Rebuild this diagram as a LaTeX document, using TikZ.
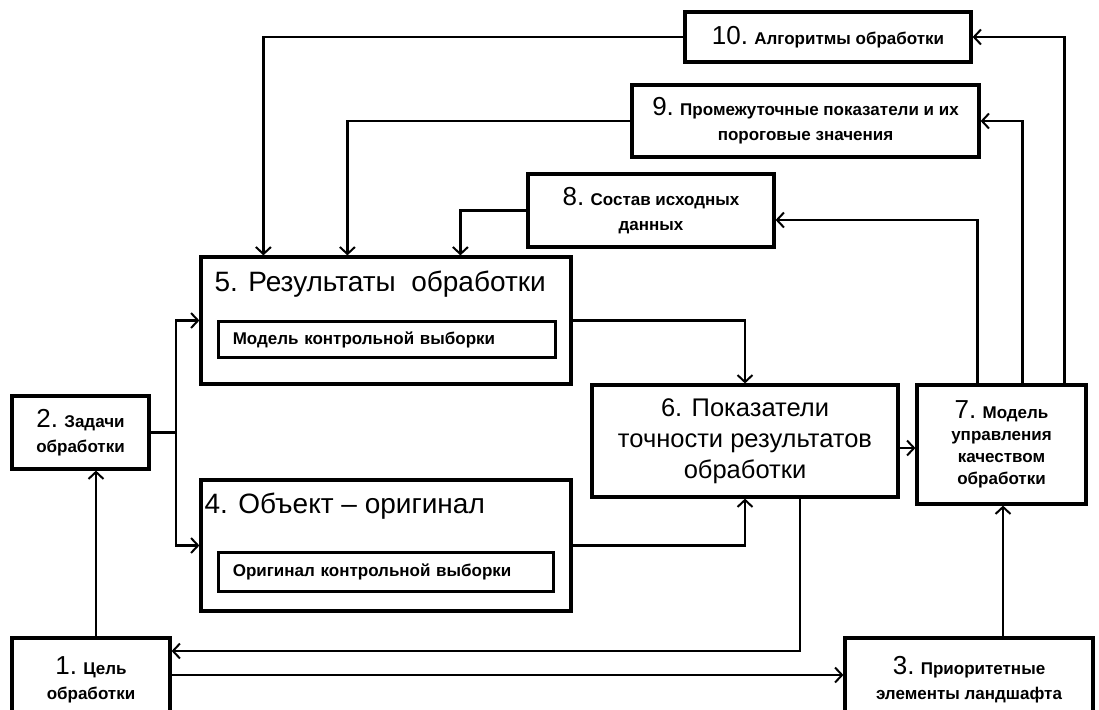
\documentclass[tikz,border=0pt]{standalone}
\usepackage{fontspec}
\setmainfont{Liberation Sans}
\usetikzlibrary{arrows.meta,positioning}
\newcommand{\bnum}[1]{{\fontsize{26}{25}\selectfont\mdseries #1}}
\tikzset{
  >={Straight Barb[length=7pt,width=15pt,line width=2pt]},
  blk/.style={draw,line width=3.2pt,align=center,inner sep=2pt,
    font=\fontsize{17}{25}\selectfont\bfseries},
  bigblk/.style={draw,line width=3.2pt,align=center,inner sep=2pt,
    font=\fontsize{25.5}{31}\selectfont},
  inblk/.style={draw,line width=2.8pt,align=left,anchor=north west,inner xsep=14pt,
    font=\fontsize{17}{19}\selectfont\bfseries},
  ttl/.style={anchor=base west,inner sep=0pt,font=\fontsize{28}{31}\selectfont},
  conn/.style={->,line width=2.2pt},
  line/.style={line width=2.2pt},
}
\begin{document}
\begin{tikzpicture}[x=1pt,y=-1pt]
  \clip (0,0) rectangle (1099,709);
  % blocks
  \node[blk,minimum width=286pt,minimum height=50pt] (alg) at (828,37) {\bnum{10.} Алгоритмы обработки};
  \node[blk,minimum width=347pt,minimum height=72pt] (prom) at (805.5,121) {\bnum{9.} Промежуточные показатели и их\\пороговые значения};
  \node[blk,minimum width=246pt,minimum height=73pt] (sost) at (651,210.5) {\bnum{8.} Состав исходных\\данных};
  \node[draw,line width=3.2pt,minimum width=370pt,minimum height=127pt] (res) at (386,320.5) {};
  \node[ttl] (res-t) at ([xshift=15pt,yshift=-36pt]res.north west) {5. Результаты\ \ обработки};
  \node[inblk,text width=309pt,minimum height=36pt] (res-m) at ([xshift=18pt,yshift=-65pt]res.north west) {Модель контрольной выборки};
  \node[draw,line width=3.2pt,minimum width=370pt,minimum height=131pt] (obj) at (386,545.5) {};
  \node[ttl] (obj-t) at ([xshift=5pt,yshift=-35pt]obj.north west) {4. Объект – оригинал};
  \node[inblk,text width=307pt,minimum height=39pt] (obj-m) at ([xshift=18pt,yshift=-73pt]obj.north west) {Оригинал контрольной выборки};
  \node[blk,minimum width=137pt,minimum height=73pt] (zad) at (80.5,432.5) {\bnum{2.} Задачи\\обработки};
  \node[bigblk,minimum width=306pt,minimum height=112pt] (pok) at (745,441) {6. Показатели\\точности результатов\\обработки};
  \node[blk,minimum width=169pt,minimum height=119pt,font=\fontsize{17}{22}\selectfont\bfseries] (mod) at (1001.5,444.5) {\bnum{7.} Модель\\управления\\качеством\\обработки};
  \node[blk,minimum width=158pt,minimum height=84pt] (cel) at (91,680) {\bnum{1.} Цель\\обработки};
  \node[blk,minimum width=248pt,minimum height=84pt] (prio) at (969,680) {\bnum{3.} Приоритетные\\элементы ландшафта};
  % connectors
  \foreach \src/\dx in {alg/64,prom/148,sost/261}
    \draw[conn] (\src.west) -| ([xshift=\dx pt]res.north west);
  \foreach \dx/\tgt/\dy in {149/alg/0,107/prom/0,62/sost/-9.5}
    \draw[conn] ([xshift=\dx pt]mod.north west) |- ([yshift=\dy pt]\tgt.east);
  \draw[conn] (res.east) -| (pok.north);
  \draw[conn] (obj.east) -| (pok.south);
  \draw[conn] ([yshift=-7pt]pok.east) -- ([yshift=-7pt]pok.east -| mod.west);
  \draw[conn] ([xshift=55pt]pok.south) |- ([yshift=29pt]cel.east);
  \draw[conn] ([yshift=5pt]cel.east) -- ([yshift=5pt]cel.east -| prio.west);
  \draw[conn] ([xshift=34pt]prio.north) -- ([xshift=34pt]prio.north |- mod.south);
  \draw[conn] ([xshift=5pt]cel.north) -- ([xshift=5pt]cel.north |- zad.south);
  \coordinate (split) at ([xshift=25pt]zad.east);
  \draw[line] (zad.east) -- (split);
  \draw[conn] (split) |- (res.west);
  \draw[conn] (split) |- (obj.west);
\end{tikzpicture}
\end{document}
